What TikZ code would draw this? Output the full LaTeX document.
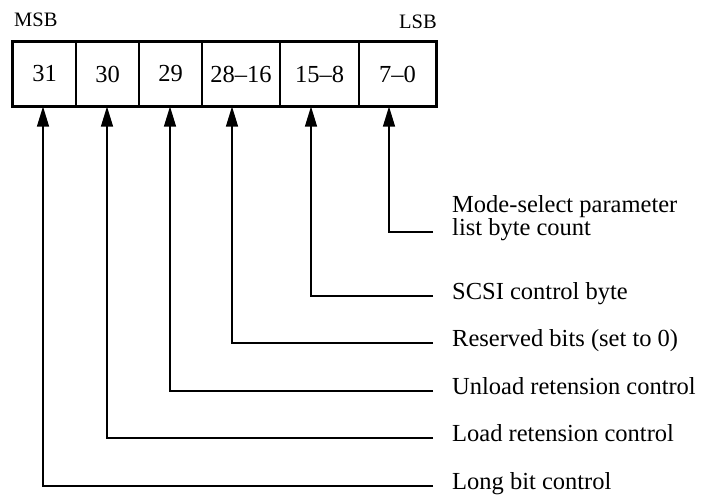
\documentclass[tikz,border=0pt]{standalone}
\usepackage{fontspec}
\setmainfont{Liberation Serif}
\usetikzlibrary{arrows.meta}
\begin{document}
\begin{tikzpicture}[x=1pt,y=1pt,
  cell/.style={draw, line width=1.1pt, inner sep=0pt, minimum height=64pt,
    font=\fontsize{24.5}{24.5}\selectfont},
  endlabel/.style={inner sep=0pt, font=\fontsize{20.5}{20.5}\selectfont},
  fieldlabel/.style={inner sep=0pt, anchor=base west, align=left,
    font=\fontsize{24.5}{23}\selectfont},
  conn/.style={line width=1.2pt, -{Triangle[length=20pt,width=12pt]}}]
\useasboundingbox (0,0) rectangle (702,-496);

% register fields
\node[cell, minimum width=63pt] (c31)   at (44.5,-74)  {31};
\node[cell, minimum width=63pt] (c30)   at (107.5,-74) {30};
\node[cell, minimum width=63pt] (c29)   at (170.5,-74) {29};
\node[cell, minimum width=78pt] (c2816) at (241,-74)   {28--16};
\node[cell, minimum width=79pt] (c158)  at (319.5,-74) {15--8};
\node[cell, minimum width=77pt] (c70)   at (397.5,-74) {7--0};
\draw[line width=2.6pt] (c31.north west) rectangle (c70.south east);

% bit order markers
\node[endlabel, anchor=base west] (msb) at (14,-26) {MSB};
\node[endlabel, anchor=base east] (lsb) at (437,-28) {LSB};

% field descriptions
\node[fieldlabel] (l70)   at (452,-235) {Mode-select parameter\\list byte count};
\node[fieldlabel] (l158)  at (452,-299) {SCSI control byte};
\node[fieldlabel] (l2816) at (452,-346) {Reserved bits (set to 0)};
\node[fieldlabel] (l29)   at (452,-394) {Unload retension control};
\node[fieldlabel] (l30)   at (452,-441) {Load retension control};
\node[fieldlabel] (l31)   at (452,-489) {Long bit control};

% leaders from descriptions to fields
\draw[conn] ([shift={(-19pt,3pt)}]l70.base west)   -| ([xshift=-8.5pt]c70.south);
\draw[conn] ([shift={(-19pt,3pt)}]l158.base west)  -| ([xshift=-8.5pt]c158.south);
\draw[conn] ([shift={(-19pt,3pt)}]l2816.base west) -| ([xshift=-9pt]c2816.south);
\draw[conn] ([shift={(-19pt,3pt)}]l29.base west)   -| ([xshift=-0.5pt]c29.south);
\draw[conn] ([shift={(-19pt,3pt)}]l30.base west)   -| ([xshift=-0.5pt]c30.south);
\draw[conn] ([shift={(-19pt,3pt)}]l31.base west)   -| ([xshift=-1.5pt]c31.south);
\end{tikzpicture}
\end{document}
